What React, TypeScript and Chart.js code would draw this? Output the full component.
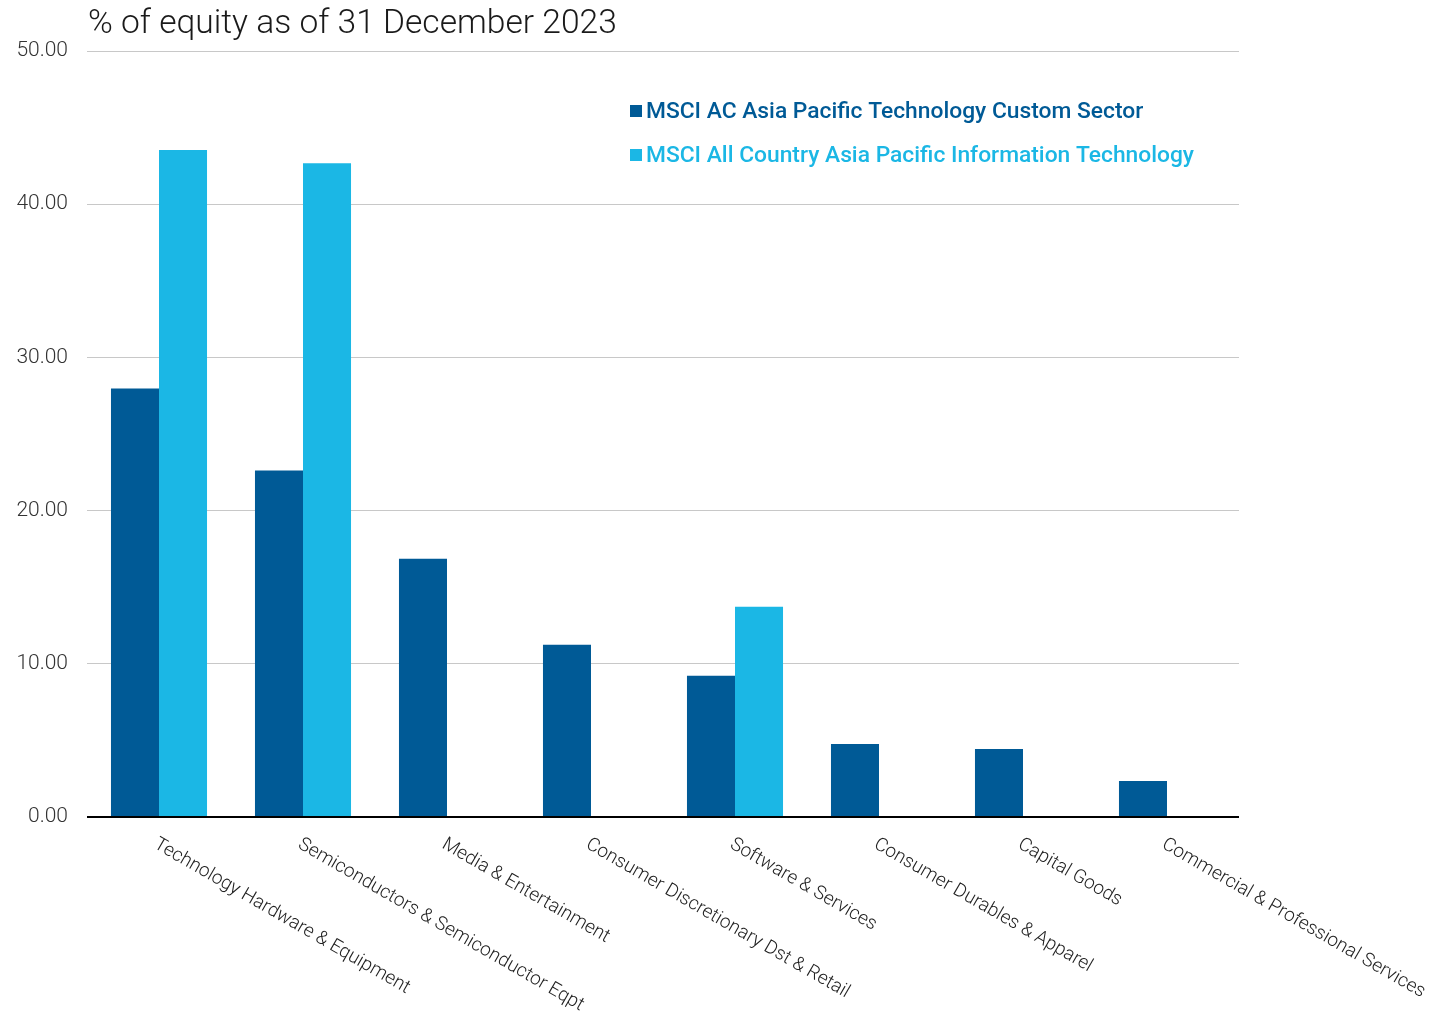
import React, { useEffect, useRef } from "react";
import { Chart, registerables } from "chart.js";

Chart.register(...registerables);

const categories = [
  "Technology Hardware & Equipment",
  "Semiconductors & Semiconductor Eqpt",
  "Media & Entertainment",
  "Consumer Discretionary Dst & Retail",
  "Software & Services",
  "Consumer Durables & Apparel",
  "Capital Goods",
  "Commercial & Professional Services",
];
const customSector = [27.97, 22.62, 16.86, 11.24, 9.22, 4.77, 4.44, 2.35];
const infoTech = [43.53, 42.68, 0, 0, 13.73, 0, 0, 0];
const seriesNames = [
  "MSCI AC Asia Pacific Technology Custom Sector",
  "MSCI All Country Asia Pacific Information Technology",
];
const titleText = "% of equity as of 31 December 2023";

const DARK = "#005A96";
const LIGHT = "#1BB7E5";
const FONT = "Roboto, sans-serif";

const overlayPlugin = {
  id: "overlay",
  afterDraw(chart: any) {
    const ctx = chart.ctx;
    const xs = chart.scales.x;
    const area = chart.chartArea;
    ctx.save();
    // title
    ctx.fillStyle = "#1a1a1a";
    ctx.font = `300 33.6px ${FONT}`;
    ctx.textAlign = "left";
    ctx.textBaseline = "alphabetic";
    ctx.fillText(titleText, 88, 33);
    // rotated category labels
    ctx.font = `300 19px ${FONT}`;
    ctx.fillStyle = "#222";
    categories.forEach((c, i) => {
      const x = xs.getPixelForValue(i);
      ctx.save();
      ctx.translate(x + 1, area.bottom + 18);
      ctx.rotate((30 * Math.PI) / 180);
      ctx.textAlign = "left";
      ctx.textBaseline = "top";
      ctx.fillText(c, 0, 0);
      ctx.restore();
    });
    // legend
    const colors = [DARK, LIGHT];
    ctx.font = `500 22.8px ${FONT}`;
    ctx.textBaseline = "middle";
    seriesNames.forEach((n, i) => {
      const cy = 111 + i * 44;
      ctx.fillStyle = colors[i];
      ctx.fillRect(630, cy - 6, 12, 12);
      ctx.fillText(n, 646, cy + 1);
    });
    ctx.restore();
  },
};

export default function App() {
  const ref = useRef<HTMLCanvasElement | null>(null);
  useEffect(() => {
    if (!ref.current) return;
    const chart = new Chart(ref.current, {
      type: "bar",
      data: {
        labels: categories,
        datasets: [
          {
            label: seriesNames[0],
            data: customSector,
            backgroundColor: DARK,
            categoryPercentage: 0.667,
            barPercentage: 1.0,
          },
          {
            label: seriesNames[1],
            data: infoTech,
            backgroundColor: LIGHT,
            categoryPercentage: 0.667,
            barPercentage: 1.0,
          },
        ],
      },
      options: {
        animation: false,
        responsive: false,
        maintainAspectRatio: false,
        layout: { padding: { left: 0, right: 207, top: 51, bottom: 188 } },
        plugins: {
          legend: { display: false },
          tooltip: { enabled: false },
        },
        scales: {
          x: {
            grid: { display: false },
            border: { display: false },
            ticks: { display: false },
          },
          y: {
            min: 0,
            max: 50,
            border: { display: false },
            grid: {
              drawTicks: false,
              color: (c: any) => (c.tick && c.tick.value === 0 ? "#000" : "#c8c8c8"),
              lineWidth: (c: any) => (c.tick && c.tick.value === 0 ? 2 : 1),
            },
            ticks: {
              stepSize: 10,
              padding: 19,
              color: "#333",
              font: { family: FONT, size: 21, weight: "300" as any },
              callback: (v: any) => Number(v).toFixed(2),
            },
            afterFit: (s: any) => {
              s.width = 87;
            },
          },
        },
      },
      plugins: [overlayPlugin],
    });
    return () => chart.destroy();
  }, []);
  return (
    <div style={{ position: "fixed", left: 0, top: 0, width: 1446, height: 1013, background: "#fff" }}>
      <canvas ref={ref} width={1446} height={1013} style={{ width: 1446, height: 1013 }} />
    </div>
  );
}
